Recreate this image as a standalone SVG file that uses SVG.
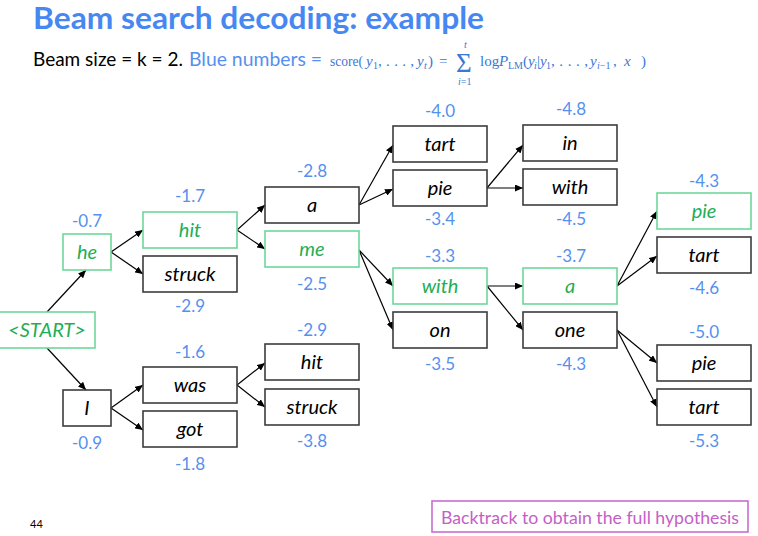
<svg xmlns="http://www.w3.org/2000/svg" width="758" height="536" viewBox="0 0 758 536">
  <style>
    .box { fill: #ffffff; stroke: #3c3c3c; stroke-width: 1.6; }
    .gbox { fill: #ffffff; stroke: #6fd69a; stroke-width: 1.6; }
    .w { font-family: Lato, "Liberation Sans", sans-serif; font-style: italic; font-size: 20px; text-anchor: middle; fill: #000000; }
    .gw { fill: #1fae55; }
    .num { font-family: Lato, "Liberation Sans", sans-serif; font-size: 17px; text-anchor: middle; fill: #5590ef; }
    .edge { stroke: #000000; stroke-width: 1.2; fill: none; marker-end: url(#arrow); }
    .m { font-family: "Liberation Serif", "DejaVu Serif", serif; font-size: 15px; fill: #3a78d2; }
    .mi { font-style: italic; }
    .ms { font-size: 10px; }
    .sig { font-family: "Liberation Serif", "DejaVu Serif", serif; font-size: 27px; fill: #3a78d2; }
  </style>
  <defs>
    <marker id="arrow" markerWidth="8" markerHeight="7" refX="8" refY="3.5" orient="auto" markerUnits="userSpaceOnUse">
      <path d="M0,0 L8,3.5 L0,7 Z" fill="#000000"/>
    </marker>
  </defs>

  <!-- heading -->
  <text x="33" y="29" font-family="Lato, 'Liberation Sans', sans-serif" font-weight="bold" font-size="30" fill="#4787f2" textLength="451" lengthAdjust="spacingAndGlyphs">Beam search decoding: example</text>
  <text x="33" y="66" font-family="Lato, 'Liberation Sans', sans-serif" font-size="19" fill="#000000" textLength="150" lengthAdjust="spacingAndGlyphs">Beam size = k = 2.</text>
  <text x="189" y="66" font-family="Lato, 'Liberation Sans', sans-serif" font-size="19" fill="#5590ef" textLength="133" lengthAdjust="spacingAndGlyphs">Blue numbers =</text>

  <!-- score formula -->
  <g id="formula">
    <text class="m" x="330" y="66" textLength="33" lengthAdjust="spacingAndGlyphs">score(</text>
    <text class="m mi" x="366" y="66">y</text>
    <text class="m ms" x="373" y="69">1</text>
    <text class="m" x="378" y="66" textLength="36" lengthAdjust="spacing">, . . . ,</text>
    <text class="m mi" x="417" y="66">y</text>
    <text class="m mi ms" x="424" y="69">t</text>
    <text class="m" x="428" y="66">)</text>
    <text class="m" x="439" y="66">=</text>
    <text class="sig" x="456" y="72">Σ</text>
    <text class="m mi ms" x="464" y="48">t</text>
    <text class="m ms" x="458" y="85"><tspan class="mi">i</tspan>=1</text>
    <text class="m" x="480" y="66">log</text>
    <text class="m mi" x="499" y="66">P</text>
    <text class="m ms" x="508" y="69" textLength="15" lengthAdjust="spacingAndGlyphs">LM</text>
    <text class="m" x="523" y="66">(</text>
    <text class="m mi" x="528" y="66">y</text>
    <text class="m mi ms" x="534" y="69">i</text>
    <text class="m" x="537" y="66">|</text>
    <text class="m mi" x="540" y="66">y</text>
    <text class="m ms" x="546" y="69">1</text>
    <text class="m" x="551" y="66" textLength="37" lengthAdjust="spacing">, . . . ,</text>
    <text class="m mi" x="590" y="66">y</text>
    <text class="m ms" x="597" y="69"><tspan class="mi">i</tspan>−1</text>
    <text class="m" x="613" y="66">,</text>
    <text class="m mi" x="624" y="66">x</text>
    <text class="m" x="641" y="66">)</text>
  </g>

  <!-- connectors -->
  <g id="connectors">
    <line class="edge" x1="47" y1="312" x2="86" y2="270"/>
    <line class="edge" x1="47" y1="348" x2="86" y2="390"/>
    <line class="edge" x1="111" y1="252" x2="143" y2="230"/>
    <line class="edge" x1="111" y1="252" x2="143" y2="274"/>
    <line class="edge" x1="111" y1="408" x2="143" y2="385"/>
    <line class="edge" x1="111" y1="408" x2="143" y2="430"/>
    <line class="edge" x1="237" y1="230" x2="265" y2="205"/>
    <line class="edge" x1="237" y1="230" x2="265" y2="249"/>
    <line class="edge" x1="237" y1="385" x2="265" y2="363"/>
    <line class="edge" x1="237" y1="385" x2="265" y2="407"/>
    <line class="edge" x1="359" y1="205" x2="393" y2="145"/>
    <line class="edge" x1="359" y1="205" x2="393" y2="189"/>
    <line class="edge" x1="359" y1="250" x2="393" y2="286"/>
    <line class="edge" x1="359" y1="250" x2="393" y2="330"/>
    <line class="edge" x1="487" y1="188" x2="523" y2="145"/>
    <line class="edge" x1="487" y1="188" x2="523" y2="188"/>
    <line class="edge" x1="487" y1="286" x2="523" y2="286"/>
    <line class="edge" x1="487" y1="286" x2="523" y2="330"/>
    <line class="edge" x1="617" y1="286" x2="657" y2="211"/>
    <line class="edge" x1="617" y1="286" x2="657" y2="256"/>
    <line class="edge" x1="617" y1="330" x2="657" y2="363"/>
    <line class="edge" x1="617" y1="330" x2="657" y2="407"/>
  </g>

  <!-- nodes -->
  <g id="n-start"><rect class="gbox" x="-1" y="312" width="96" height="36"/><text class="w gw" x="47" y="337">&lt;START&gt;</text></g>
  <g id="n-he"><rect class="gbox" x="63" y="234" width="48" height="36"/><text class="w gw" x="87" y="259">he</text></g>
  <g id="n-i"><rect class="box" x="63" y="390" width="48" height="36"/><text class="w" x="87" y="415">I</text></g>
  <g id="n-hit"><rect class="gbox" x="143" y="212" width="94" height="36"/><text class="w gw" x="190" y="237">hit</text></g>
  <g id="n-struck"><rect class="box" x="143" y="256" width="94" height="36"/><text class="w" x="190" y="281">struck</text></g>
  <g id="n-was"><rect class="box" x="143" y="367" width="94" height="36"/><text class="w" x="190" y="392">was</text></g>
  <g id="n-got"><rect class="box" x="143" y="411" width="94" height="36"/><text class="w" x="190" y="436">got</text></g>
  <g id="n-a"><rect class="box" x="265" y="187" width="94" height="36"/><text class="w" x="312" y="212">a</text></g>
  <g id="n-me"><rect class="gbox" x="265" y="231" width="94" height="36"/><text class="w gw" x="312" y="256">me</text></g>
  <g id="n-hit2"><rect class="box" x="265" y="344" width="94" height="36"/><text class="w" x="312" y="369">hit</text></g>
  <g id="n-struck2"><rect class="box" x="265" y="389" width="94" height="36"/><text class="w" x="312" y="414">struck</text></g>
  <g id="n-tart"><rect class="box" x="393" y="126" width="94" height="36"/><text class="w" x="440" y="151">tart</text></g>
  <g id="n-pie"><rect class="box" x="393" y="170" width="94" height="36"/><text class="w" x="440" y="195">pie</text></g>
  <g id="n-with"><rect class="gbox" x="393" y="268" width="94" height="36"/><text class="w gw" x="440" y="293">with</text></g>
  <g id="n-on"><rect class="box" x="393" y="312" width="94" height="36"/><text class="w" x="440" y="337">on</text></g>
  <g id="n-in"><rect class="box" x="523" y="125" width="94" height="36"/><text class="w" x="570" y="150">in</text></g>
  <g id="n-with2"><rect class="box" x="523" y="169" width="94" height="36"/><text class="w" x="570" y="194">with</text></g>
  <g id="n-a2"><rect class="gbox" x="523" y="268" width="94" height="36"/><text class="w gw" x="570" y="293">a</text></g>
  <g id="n-one"><rect class="box" x="523" y="312" width="94" height="36"/><text class="w" x="570" y="337">one</text></g>
  <g id="n-pie3"><rect class="gbox" x="657" y="193" width="94" height="36"/><text class="w gw" x="704" y="218">pie</text></g>
  <g id="n-tart3"><rect class="box" x="657" y="237" width="94" height="36"/><text class="w" x="704" y="262">tart</text></g>
  <g id="n-pie4"><rect class="box" x="657" y="345" width="94" height="36"/><text class="w" x="704" y="370">pie</text></g>
  <g id="n-tart4"><rect class="box" x="657" y="389" width="94" height="36"/><text class="w" x="704" y="414">tart</text></g>

  <!-- scores -->
  <g id="scores">
    <text class="num" x="87" y="227">-0.7</text>
    <text class="num" x="87" y="449">-0.9</text>
    <text class="num" x="190" y="202">-1.7</text>
    <text class="num" x="190" y="312">-2.9</text>
    <text class="num" x="190" y="358">-1.6</text>
    <text class="num" x="190" y="470">-1.8</text>
    <text class="num" x="312" y="177">-2.8</text>
    <text class="num" x="312" y="290">-2.5</text>
    <text class="num" x="312" y="336">-2.9</text>
    <text class="num" x="312" y="447">-3.8</text>
    <text class="num" x="440" y="117">-4.0</text>
    <text class="num" x="440" y="225">-3.4</text>
    <text class="num" x="440" y="262">-3.3</text>
    <text class="num" x="440" y="370">-3.5</text>
    <text class="num" x="571" y="115">-4.8</text>
    <text class="num" x="571" y="225">-4.5</text>
    <text class="num" x="571" y="262">-3.7</text>
    <text class="num" x="571" y="370">-4.3</text>
    <text class="num" x="704" y="187">-4.3</text>
    <text class="num" x="704" y="294">-4.6</text>
    <text class="num" x="704" y="338">-5.0</text>
    <text class="num" x="704" y="447">-5.3</text>
  </g>

  <!-- footer -->
  <text x="30" y="528" font-family="Lato, 'Liberation Sans', sans-serif" font-size="11" fill="#000000">44</text>
  <g id="note">
    <rect x="432" y="501" width="316" height="31" fill="#ffffff" stroke="#c86dd0" stroke-width="1.6"/>
    <text x="441" y="524" font-family="Lato, 'Liberation Sans', sans-serif" font-size="17" fill="#c460c6" textLength="298" lengthAdjust="spacingAndGlyphs">Backtrack to obtain the full hypothesis</text>
  </g>
</svg>
